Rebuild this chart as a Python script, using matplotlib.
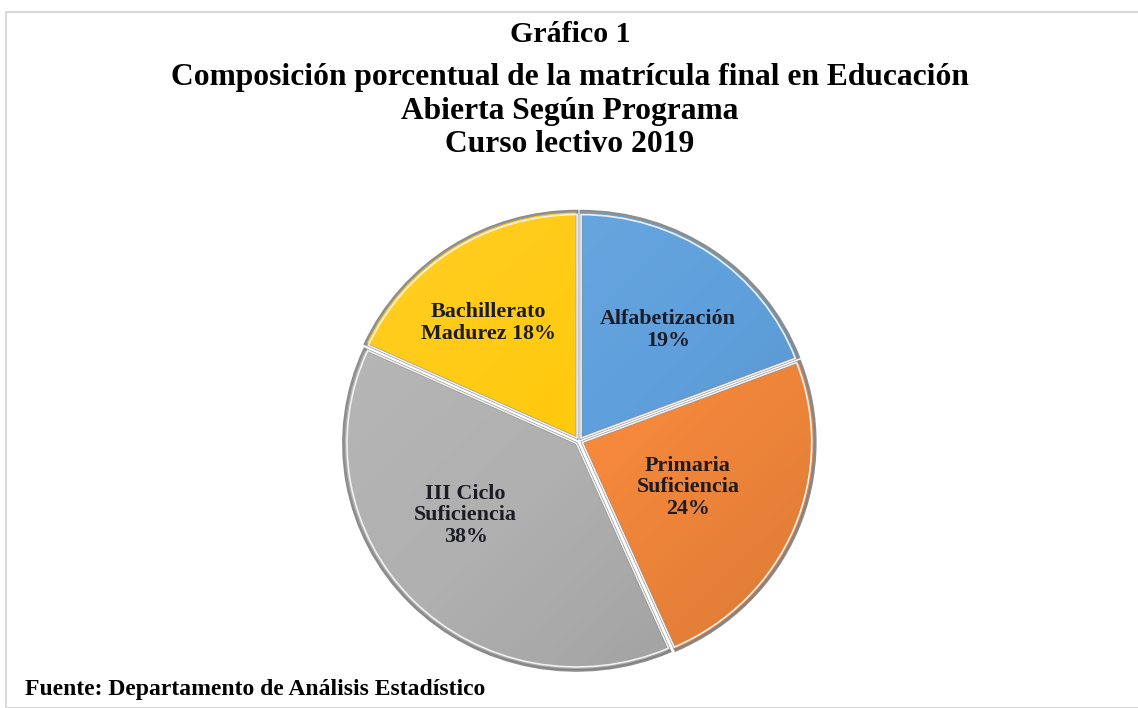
import numpy as np
import matplotlib
matplotlib.use("Agg")
import matplotlib.pyplot as plt
from matplotlib.patches import Rectangle

categories = ["Alfabetización", "Primaria\nSuficiencia", "III Ciclo\nSuficiencia", "Bachillerato\nMadurez"]
values = [19, 24, 38, 18]
pct_labels = ["19%", "24%", "38%", "18%"]
colors = ["#5FA0DC", "#F6893C", "#B0B0B0", "#FFC90C"]

title_lines = ["Gráfico 1",
               "Composición porcentual de la matrícula final en Educación",
               "Abierta Según Programa",
               "Curso lectivo 2019"]
source = "Fuente: Departamento de Análisis Estadístico"

plt.rcParams['font.family'] = ['Liberation Serif', 'DejaVu Serif']

W, H = 1138, 708
fig = plt.figure(figsize=(W / 100, H / 100), dpi=100)
fig.patch.set_facecolor("white")

# border frame
fig.add_artist(Rectangle((6 / W, 0), 1.2, 1 - 12 / H, transform=fig.transFigure,
                         fill=False, edgecolor="#D9D9D9", linewidth=1.5))

cx, cy = 579, 441
Rx, Ry = 233, 227
lim = 1.1
wpx, hpx = 2 * lim * Rx, 2 * lim * Ry
ax = fig.add_axes([(cx - wpx / 2) / W, (H - cy - hpx / 2) / H, wpx / W, hpx / H])
ax.axis("off")

explode = [0.015] * 4
wedges, _ = ax.pie(values, colors=colors, startangle=90, counterclock=False,
                   explode=explode,
                   wedgeprops=dict(edgecolor="#8C8C8C", linewidth=2.0))
ax.set_aspect("auto")
ax.set_xlim(-lim, lim)
ax.set_ylim(-lim, lim)

# subtle shading clipped to each wedge
gx, gy = np.meshgrid(np.linspace(-1.1, 1.1, 400), np.linspace(-1.1, 1.1, 400))
shade = (gx - gy) / 2.2
for w in wedges:
    img = np.zeros((400, 400, 4))
    img[..., :3] = np.where(shade[..., None] > 0, 0.0, 1.0)
    img[..., 3] = np.clip(np.abs(shade) * 0.12, 0, 0.1)
    im = ax.imshow(img, extent=(-1.1, 1.1, -1.1, 1.1), origin="lower",
                   interpolation="bilinear", aspect="auto",
                   zorder=w.get_zorder() + 0.1)
    im.set_clip_path(w)

# inner light bevel line
ax.pie(values, colors=["none"] * 4, startangle=90, counterclock=False,
       explode=explode, radius=0.985,
       wedgeprops=dict(edgecolor="#F0F0F0", linewidth=1.2, fill=False, zorder=5))
ax.set_aspect("auto")
ax.set_xlim(-lim, lim)
ax.set_ylim(-lim, lim)

label_r = [0.62, 0.51, 0.586, 0.65]
label_dang = [-3.5, -0.8, -10.7, 4.2]
for w, cat, pct, r, da in zip(wedges, categories, pct_labels, label_r, label_dang):
    ang = np.deg2rad((w.theta1 + w.theta2) / 2 + da)
    x, y = r * np.cos(ang), r * np.sin(ang)
    if cat.startswith("Bachillerato"):
        txt = cat + " " + pct
    else:
        txt = cat + "\n" + pct
    ax.text(x, y, txt, ha="center", va="center", fontsize=15.8, fontweight="bold",
            color="#1c1c24", linespacing=1.1, zorder=10)

ys = [35, 77, 111, 145]
sizes = [21.5, 22.7, 22.7, 22.7]
for line, y, fs in zip(title_lines, ys, sizes):
    fig.text(570 / W, 1 - y / H, line, ha="center", va="center",
             fontsize=fs, fontweight="bold", color="black")

fig.text(25 / W, 1 - 690 / H, source, ha="left", va="center", fontsize=17,
         fontweight="bold", color="black")

fig.savefig("out.png", dpi=100, facecolor="white")
